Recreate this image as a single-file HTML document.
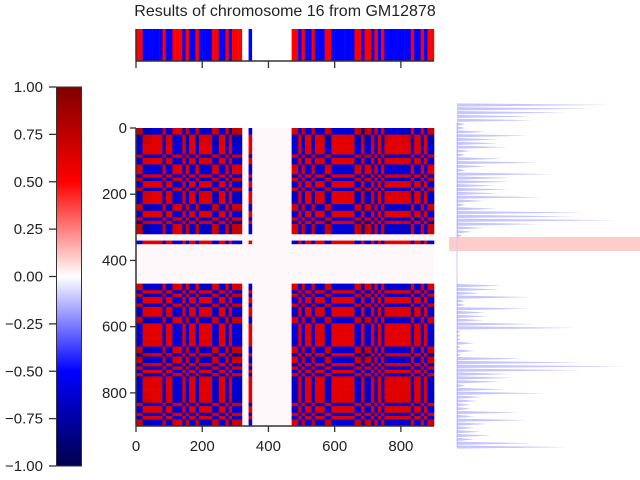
<!DOCTYPE html>
<html><head><meta charset="utf-8"><style>
body{margin:0;background:#fff;}
svg{display:block;font-family:"Liberation Sans",Arial,sans-serif;}
</style></head><body>
<svg id="fig" width="640" height="480" viewBox="0 0 640 480" xmlns="http://www.w3.org/2000/svg">
<defs>
<linearGradient id="seis" x1="0" y1="1" x2="0" y2="0">
<stop offset="0" stop-color="#00004c"/><stop offset="0.25" stop-color="#0000ff"/>
<stop offset="0.5" stop-color="#ffffff"/><stop offset="0.75" stop-color="#ff0000"/>
<stop offset="1" stop-color="#7f0000"/></linearGradient>
</defs>
<text x="285" y="16" font-size="16" text-anchor="middle" fill="#222">Results of chromosome 16 from GM12878</text>
<g id="track"></g>
<g id="heat"></g>
<g id="cbar">
<rect x="56.5" y="87" width="25" height="379" fill="url(#seis)" stroke="#333" stroke-width="1"/>
</g>
<g id="side"></g>
<g id="axes"></g>
</svg>
<script>
const signs=[1,1,-1,-1,-1,-1,-1,-1,1,-1,-1,1,1,1,-1,1,-1,-1,1,-1,-1,-1,-1,1,1,-1,-1,1,-1,1,1,1,0,0,-1,0,0,0,0,0,0,0,0,0,0,0,0,1,1,-1,1,-1,-1,1,-1,-1,-1,1,1,-1,-1,-1,-1,-1,-1,-1,1,1,-1,1,1,-1,1,-1,1,-1,-1,-1,-1,-1,-1,-1,-1,1,-1,-1,1,-1,1,1];
const profile=[0.9,0.8,0.65,0.45,0.45,0.05,0.05,0.17,0.42,0.24,0.24,0.3,0.08,0.05,0.26,0.48,0.18,0.05,0.57,0.32,0.31,0.22,0.3,0.24,0.5,0.16,0.05,0.23,0.76,0.7,0.96,0.49,0.16,0.09,0.03,0,0,0,0,0,0,0,0,0,0,0,0,0.27,0.25,0.13,0.44,0.05,0.05,0.43,0.17,0.18,0.16,0.47,0.7,0.02,0.02,0.02,0.1,0.02,0.1,0.02,0.39,0.74,0.99,0.74,0.32,0.33,0.26,0.05,0.28,0.52,0.15,0.12,0.08,0.08,0.37,0.1,0.42,0.18,0.1,0.14,0.2,0.1,0.45,0.65];
const axisTicks=[0,200,400,600,800];
const cbTicks=[1,0.75,0.5,0.25,0,-0.25,-0.5,-0.75,-1];
const NS="http://www.w3.org/2000/svg";
function mk(t,a,p){const e=document.createElementNS(NS,t);for(const k in a)e.setAttribute(k,a[k]);p.appendChild(e);return e;}
function seismic(v){v=Math.max(-1,Math.min(1,v));let r,g,b;
 if(v<-0.5){const t=(v+1)/0.5;r=0;g=0;b=0.3+0.7*t;}
 else if(v<0){const t=(v+0.5)/0.5;r=t;g=t;b=1;}
 else if(v<0.5){const t=v/0.5;r=1;g=1-t;b=1-t;}
 else{const t=(v-0.5)/0.5;r=1-0.5*t;g=0;b=0;}
 return `rgb(${Math.round(r*255)},${Math.round(g*255)},${Math.round(b*255)})`;}
const hx0=136,hy0=128,hsz=298,N=900;
const sx=v=>hx0+v/N*hsz, sy=v=>hy0+v/N*hsz;
const bw=10;
const track=document.getElementById('track');
signs.forEach((s,i)=>{if(!s)return;const r=mk('rect',{x:sx(i*bw),y:29,width:sx((i+1)*bw)-sx(i*bw)+0.2,height:32,fill:s>0?'#ff0000':'#0000ff'},track);

});
const heat=document.getElementById('heat');
mk('rect',{x:hx0,y:hy0,width:hsz,height:hsz,fill:'#fff8fb'},heat);
for(let i=0;i<signs.length;i++)for(let j=0;j<signs.length;j++){
 const v=signs[i]*signs[j]*(0.6+0.2*Math.min(profile[i],profile[j]));
 if(!v)continue;
 const r=mk('rect',{x:sx(j*bw),y:sy(i*bw),width:sx((j+1)*bw)-sx(j*bw)+0.3,height:sy((i+1)*bw)-sy(i*bw)+0.3,fill:seismic(v)},heat);
 
 }
const side=document.getElementById('side');
const py0=103,py1=449,px0=457,pscale=170;
const py=v=>py0+v/N*(py1-py0);
mk('rect',{x:449,y:237,width:191,height:14,fill:'#ffcccc'},side);
mk('line',{x1:px0,y1:py(50),x2:px0,y2:py(895),stroke:'#c8c8ff','stroke-width':1},side);
profile.forEach((v,i)=>{if(!v)return;const y=py(i*bw+5);
 const p=mk('polygon',{points:`${px0},${y-1.6} ${px0+v*pscale},${y} ${px0},${y+1.6}`,fill:'rgba(90,90,255,0.35)'},side);
 
 });
const ax=document.getElementById('axes');
const dk='#333';
mk('line',{x1:hx0,y1:hy0,x2:hx0,y2:hy0+hsz,stroke:dk,'stroke-width':1.5},ax);
mk('line',{x1:hx0,y1:hy0+hsz,x2:hx0+hsz,y2:hy0+hsz,stroke:dk,'stroke-width':1.5},ax);
mk('line',{x1:hx0,y1:29,x2:hx0,y2:61,stroke:dk,'stroke-width':1.5},ax);
mk('line',{x1:hx0,y1:61,x2:hx0+hsz,y2:61,stroke:dk,'stroke-width':1.5},ax);
axisTicks.forEach(t=>{
 mk('line',{x1:hx0-6,y1:sy(t),x2:hx0,y2:sy(t),stroke:dk,'stroke-width':1.3},ax);
 const a=mk('text',{x:hx0-9,y:sy(t)+5,'font-size':15,'text-anchor':'end',fill:'#222'},ax);a.textContent=t;
 
 
 mk('line',{x1:sx(t),y1:hy0+hsz,x2:sx(t),y2:hy0+hsz+6,stroke:dk,'stroke-width':1.3},ax);
 const b=mk('text',{x:sx(t),y:hy0+hsz+25,'font-size':15,'text-anchor':'middle',fill:'#222'},ax);b.textContent=t;
 
 
 mk('line',{x1:sx(t),y1:61,x2:sx(t),y2:68,stroke:dk,'stroke-width':1.3},ax);});
const cb=document.getElementById('cbar');
cbTicks.forEach(t=>{const y=87+(1-t)/2*379;
 mk('line',{x1:49,y1:y,x2:56,y2:y,stroke:dk,'stroke-width':1.3},cb);
 const a=mk('text',{x:43,y:y+5,'font-size':15,'text-anchor':'end',fill:'#222'},cb);
 a.textContent=(t<0?'\u2212':'')+Math.abs(t).toFixed(2);
 
 });
</script>
</body></html>
